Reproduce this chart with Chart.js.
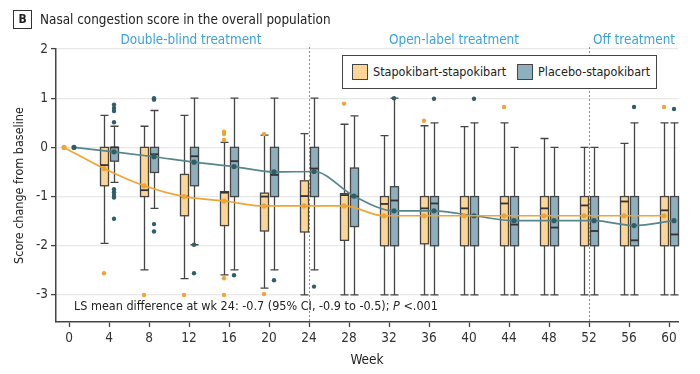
<!DOCTYPE html>
<html>
<head>
<meta charset="utf-8">
<title>Nasal congestion score</title>
<script src="https://cdn.jsdelivr.net/npm/chart.js@4.4.1/dist/chart.umd.min.js"></script>
<style>
  html, body { margin: 0; padding: 0; background: #fff; }
  #wrap {
    position: relative; width: 700px; height: 374px; overflow: hidden;
    font-family: "Liberation Sans Narrow", "DejaVu Sans Condensed", "Open Sans", sans-serif;
    color: #222;
  }
  #chart { position: absolute; left: 0; top: 0; }
  .title { position: absolute; left: 13px; top: 10px; height: 19px; font-size: 13.4px; line-height: 19px; white-space: nowrap; }
  .title .tag {
    display: inline-block; box-sizing: border-box; width: 19px; height: 19px;
    border: 1.5px solid #333; text-align: center; font-weight: bold; font-size: 12px; line-height: 16px;
    margin-right: 8px; vertical-align: top;
  }
  .legend {
    position: absolute; left: 342px; top: 55px; width: 315px; height: 34px; box-sizing: border-box;
    border: 1.5px solid #444; background: #fff; font-size: 12.5px; white-space: nowrap;
  }
  .legend .item { position: absolute; top: 8px; height: 16px; line-height: 16px; }
  .legend .sw {
    display: inline-block; box-sizing: border-box; width: 16px; height: 16px; border: 1.5px solid #444;
    vertical-align: top; margin-right: 5px;
  }
</style>
</head>
<body>
<div id="wrap">
  <canvas id="chart" width="700" height="374"></canvas>
  <div class="title"><span class="tag">B</span>Nasal congestion score in the overall population</div>
  <div class="legend">
    <div class="item" style="left:9px"><span class="sw" style="background:#fdd597"></span>Stapokibart-stapokibart</div>
    <div class="item" style="left:174px"><span class="sw" style="background:#8eafbd"></span>Placebo-stapokibart</div>
  </div>
</div>
<script>
// weeks with box plots
const weeks = [4, 8, 12, 16, 20, 24, 28, 32, 36, 40, 44, 48, 52, 56, 60];
// weeks with a mean point (baseline included)
const meanWeeks = [0, 4, 8, 12, 16, 20, 24, 28, 32, 36, 40, 44, 48, 52, 56, 60];
const weekTicks = [0, 4, 8, 12, 16, 20, 24, 28, 32, 36, 40, 44, 48, 52, 56, 60];
const scoreTicks = [-3, -2, -1, 0, 1, 2];

// Stapokibart-stapokibart
const stapHigh   = [0.65, 0.43, 0.65, 0.10, 0.25, 0.28, 0.47, 0.24, 0.44, 0.42, 0.50, 0.18, 0.00, 0.08, 0.50];
const stapQ3     = [0, 0, -0.55, -0.90, -0.93, -0.68, -0.94, -1, -1, -1, -1, -1, -1, -1, -1];
const stapMedian = [-0.36, -0.87, -1.00, -0.92, -1.00, -0.99, -0.97, -1.15, -1.24, -1.24, -1.14, -1.24, -1.18, -1.10, -1.28];
const stapQ1     = [-0.78, -1.00, -1.39, -1.59, -1.70, -1.72, -1.89, -2, -1.96, -2, -2, -2, -2, -2, -2];
const stapLow    = [-1.95, -2.49, -2.67, -2.59, -2.86, -3, -3, -3, -3, -3, -3, -3, -3, -3, -3];
const stapMean   = [0, -0.43, -0.78, -1.00, -1.09, -1.19, -1.19, -1.19, -1.39, -1.39, -1.39, -1.39, -1.39, -1.39, -1.39, -1.39];
const stapOutliers = [
  [-2.56], [-3.0], [-3.0], [0.32, 0.27, 0.15, -2.66, -3.0], [0.27, -2.98], [],
  [0.89], [], [0.54], [], [0.82], [], [], [], [0.82]
];

// Placebo-stapokibart
const placHigh   = [0.43, 0.75, 1, 1, 1, 1, 0.64, 1, 0.5, 0.5, 0, 0, 0, 0.5, 0.5];
const placQ3     = [0, 0, 0, 0, 0, 0, -0.42, -0.80, -1, -1, -1, -1, -1, -1, -1];
const placMedian = [0, -0.14, -0.18, -0.28, -0.56, -0.43, -1.00, -1.08, -1.14, -1.39, -1.57, -1.63, -1.70, -1.89, -1.77];
const placQ1     = [-0.28, -0.51, -0.78, -1, -1, -1, -1.61, -2, -2, -2, -2, -2, -2, -2, -2];
const placLow    = [-0.71, -1.24, -1.98, -2.49, -2.49, -2.49, -3, -3, -3, -3, -3, -3, -3, -3, -3];
const placMean   = [0, -0.09, -0.19, -0.30, -0.39, -0.50, -0.49, -0.99, -1.29, -1.29, -1.39, -1.49, -1.49, -1.49, -1.59, -1.49];
const placOutliers = [
  [0.87, 0.80, 0.74, 0.51, -0.85, -0.91, -0.97, -1.02, -1.45], [1.0, 0.97, -1.56, -1.71],
  [-1.98, -2.56], [-2.6], [-2.7], [-2.83], [], [1.0], [0.99], [0.99], [], [], [], [0.82], [0.78]
];

// treatment phases: dividers and labels
const phaseBreaks = [24, 52];
const phaseLabels = ['Double-blind treatment', 'Open-label treatment', 'Off treatment'];
const phaseLabelWeeks = [12.2, 38.5, 56.5];

const FONT = '"Liberation Sans Narrow", "DejaVu Sans Condensed", "Open Sans", sans-serif';
const ORANGE = '#f2a432';
const ORANGE_FILL = '#fdd597';
const TEAL = '#55868c';
const TEAL_DOT = '#2f5f66';
const BLUE_FILL = '#8eafbd';
const EDGE = '#454545';
const PHASE = '#3aa3da';
const OFFSET = 0.5;      // weeks each group is shifted from the tick
const BOX_W = 0.8;       // box width, in weeks

const groups = [
  { offset: -OFFSET, fill: ORANGE_FILL, high: stapHigh, q3: stapQ3, med: stapMedian, q1: stapQ1, low: stapLow },
  { offset: OFFSET, fill: BLUE_FILL, high: placHigh, q3: placQ3, med: placMedian, q1: placQ1, low: placLow }
];

function outlierPoints(list, offset) {
  const pts = [];
  list.forEach((vals, i) => vals.forEach(v => pts.push({ x: weeks[i] + offset, y: v })));
  return pts;
}

// box and whisker marks, drawn under the mean lines
const boxPlotPlugin = {
  id: 'boxPlots',
  beforeDatasetsDraw(chart) {
    const { ctx, scales: { x, y } } = chart;
    const half = Math.abs(x.getPixelForValue(BOX_W) - x.getPixelForValue(0)) / 2;
    ctx.save();
    groups.forEach(g => {
      weeks.forEach((w, i) => {
        const cx = Math.round(x.getPixelForValue(w + g.offset)) + 0.5;
        const yHigh = y.getPixelForValue(g.high[i]);
        const yQ3 = y.getPixelForValue(g.q3[i]);
        const yMed = y.getPixelForValue(g.med[i]);
        const yQ1 = y.getPixelForValue(g.q1[i]);
        const yLow = y.getPixelForValue(g.low[i]);
        ctx.strokeStyle = EDGE;
        ctx.lineWidth = 1.3;
        // whiskers
        ctx.beginPath();
        ctx.moveTo(cx, yHigh); ctx.lineTo(cx, yQ3);
        ctx.moveTo(cx, yQ1); ctx.lineTo(cx, yLow);
        ctx.moveTo(cx - half, yHigh); ctx.lineTo(cx + half, yHigh);
        ctx.moveTo(cx - half, yLow); ctx.lineTo(cx + half, yLow);
        ctx.stroke();
        // box
        ctx.fillStyle = g.fill;
        ctx.fillRect(cx - half, yQ3, half * 2, yQ1 - yQ3);
        ctx.strokeRect(cx - half, yQ3, half * 2, yQ1 - yQ3);
        // median
        ctx.lineWidth = 1.8;
        ctx.strokeStyle = '#333';
        ctx.beginPath();
        ctx.moveTo(cx - half, yMed); ctx.lineTo(cx + half, yMed);
        ctx.stroke();
      });
    });
    // phase dividers
    ctx.strokeStyle = '#2fa8e8';
    ctx.lineWidth = 1;
    ctx.setLineDash([2, 2]);
    phaseBreaks.forEach(w => {
      const px = Math.round(x.getPixelForValue(w)) + 0.5;
      ctx.beginPath();
      ctx.moveTo(px, chart.chartArea.top - 2);
      ctx.lineTo(px, chart.chartArea.bottom);
      ctx.stroke();
    });
    ctx.restore();
  },
  afterDraw(chart) {
    const { ctx, scales: { x }, chartArea } = chart;
    ctx.save();
    ctx.fillStyle = PHASE;
    ctx.font = '13.4px ' + FONT;
    ctx.textAlign = 'center';
    ctx.textBaseline = 'middle';
    phaseLabels.forEach((t, i) => ctx.fillText(t, x.getPixelForValue(phaseLabelWeeks[i]), 41));
    // LS mean difference note
    ctx.fillStyle = '#222';
    ctx.textAlign = 'left';
    ctx.font = '12.5px ' + FONT;
    const y0 = chartArea.bottom - 15;
    let px = chartArea.left + 18;
    const part1 = 'LS mean difference at wk 24: -0.7 (95% CI, -0.9 to -0.5); ';
    ctx.fillText(part1, px, y0);
    px += ctx.measureText(part1).width;
    ctx.font = 'italic 12.5px ' + FONT;
    ctx.fillText('P', px, y0);
    px += ctx.measureText('P ').width;
    ctx.font = '12.5px ' + FONT;
    ctx.fillText('<.001', px, y0);
    ctx.restore();
  }
};

Chart.defaults.font.family = FONT;
Chart.defaults.color = '#333';

new Chart(document.getElementById('chart'), {
  type: 'scatter',
  data: {
    datasets: [
      {
        label: 'Stapokibart-stapokibart mean',
        data: meanWeeks.map((w, i) => ({ x: w - OFFSET, y: stapMean[i] })),
        showLine: true,
        cubicInterpolationMode: 'monotone',
        borderColor: ORANGE,
        borderWidth: 1.7,
        pointRadius: 2.6,
        pointBackgroundColor: ORANGE,
        pointBorderWidth: 0
      },
      {
        label: 'Placebo-stapokibart mean',
        data: meanWeeks.map((w, i) => ({ x: w + OFFSET, y: placMean[i] })),
        showLine: true,
        cubicInterpolationMode: 'monotone',
        borderColor: TEAL,
        borderWidth: 1.7,
        pointRadius: 2.6,
        pointBackgroundColor: TEAL_DOT,
        pointBorderWidth: 0
      },
      {
        label: 'Stapokibart outliers',
        data: outlierPoints(stapOutliers, -OFFSET),
        pointRadius: 2.2,
        pointBackgroundColor: ORANGE,
        pointBorderWidth: 0
      },
      {
        label: 'Placebo outliers',
        data: outlierPoints(placOutliers, OFFSET),
        pointRadius: 2.2,
        pointBackgroundColor: TEAL_DOT,
        pointBorderWidth: 0
      }
    ]
  },
  options: {
    responsive: false,
    animation: false,
    layout: { padding: { top: 49, right: 22, left: 0, bottom: 0 } },
    plugins: { legend: { display: false }, tooltip: { enabled: false } },
    scales: {
      x: {
        type: 'linear',
        min: -1.3,
        max: 60.9,
        afterBuildTicks: s => { s.ticks = weekTicks.map(v => ({ value: v })); },
        afterFit: s => { s.height = 52; },
        grid: { drawOnChartArea: false, tickLength: 5, tickColor: EDGE, tickWidth: 1.3 },
        border: { color: EDGE, width: 1.5 },
        ticks: { padding: 3, font: { size: 13.5 }, color: '#333', maxRotation: 0 },
        title: { display: true, text: 'Week', font: { size: 13.5 }, color: '#222', padding: { top: 2, bottom: 5 } }
      },
      y: {
        min: -3.55,
        max: 2,
        afterBuildTicks: s => { s.ticks = scoreTicks.map(v => ({ value: v })); },
        afterFit: s => { s.width = 56; },
        grid: { color: '#e8e8e8', lineWidth: 1.2, tickLength: 5, tickColor: EDGE, tickWidth: 1.3 },
        border: { color: EDGE, width: 1.5 },
        ticks: { padding: 3, font: { size: 13.5 }, color: '#333' },
        title: { display: true, text: 'Score change from baseline', font: { size: 12.5 }, color: '#222', padding: { top: 12, bottom: 4 } }
      }
    }
  },
  plugins: [boxPlotPlugin]
});
</script>
</body>
</html>
